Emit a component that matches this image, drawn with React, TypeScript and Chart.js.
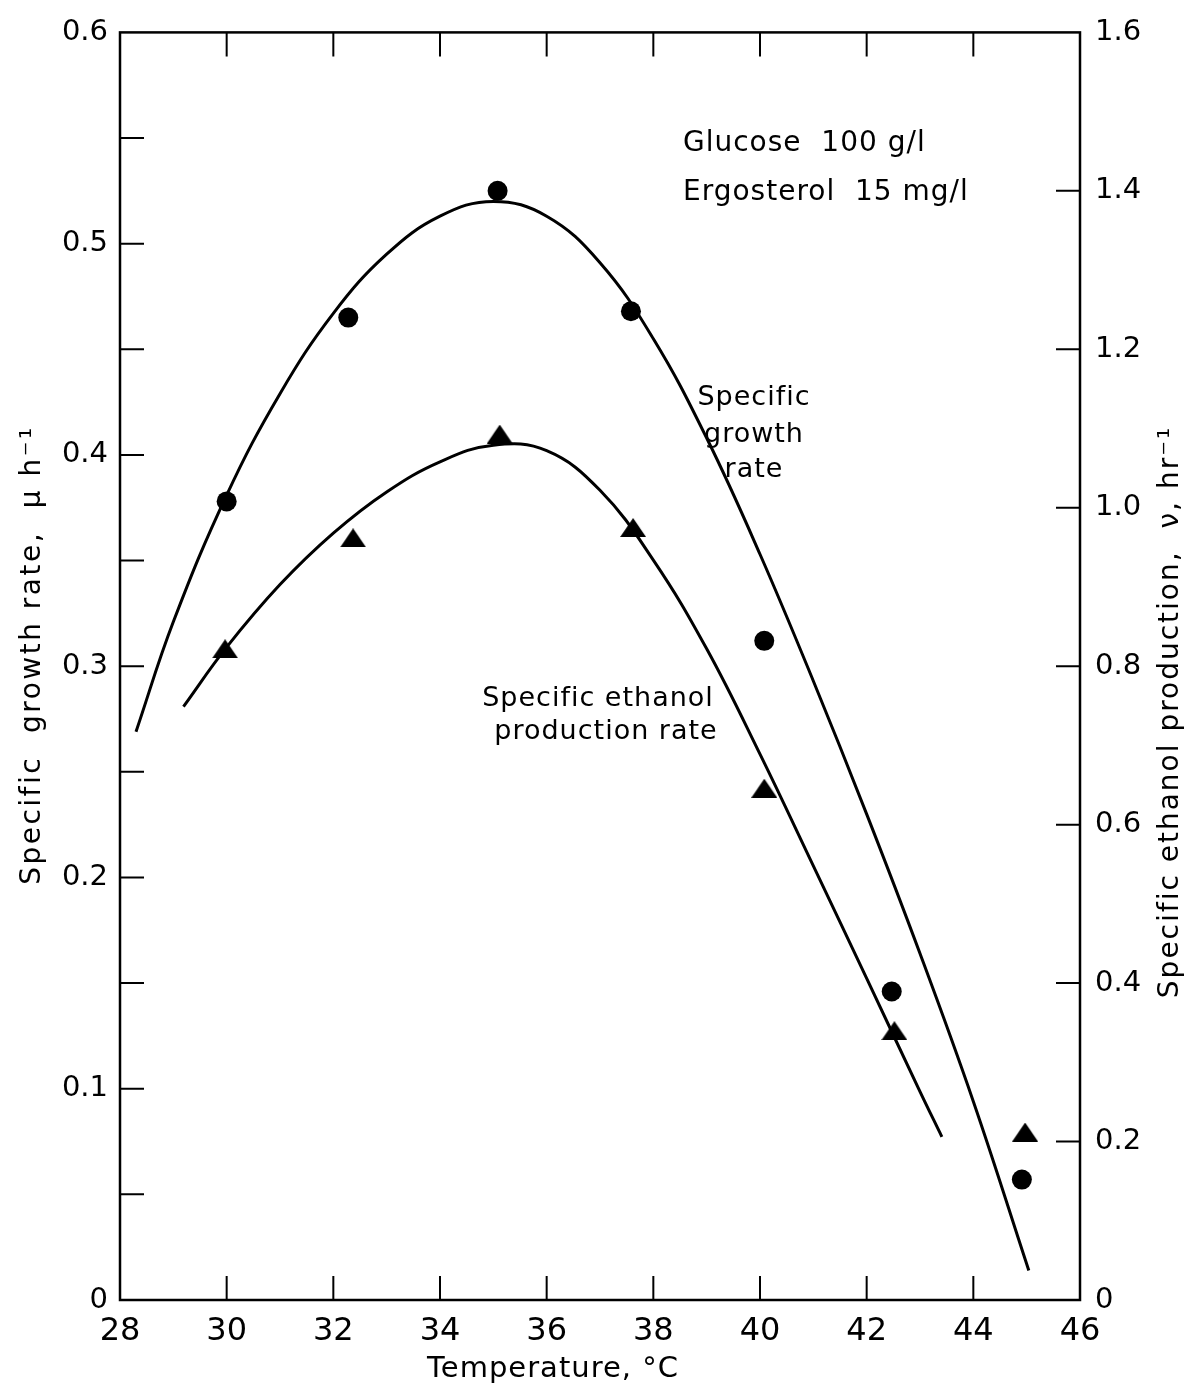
import React, { useEffect, useRef } from "react";
import { Chart, registerables } from "chart.js";

Chart.register(...registerables);

// Temperature (°C) of measured points
const growthTemps = [30.0, 32.28, 35.08, 37.58, 40.08, 42.47, 44.91];
// Specific growth rate, μ h^-1 (left axis)
const growthRates = [0.378, 0.465, 0.525, 0.468, 0.312, 0.146, 0.057];

const ethanolTemps = [29.97, 32.37, 35.12, 37.62, 40.08, 42.52, 44.97];
// Specific ethanol production, ν hr^-1 (right axis)
const ethanolRates = [0.822, 0.962, 1.093, 0.975, 0.646, 0.34, 0.212];

// Fitted curves
const growthCurveT = [28.3, 29, 30, 31, 32, 33, 34, 35, 36, 37, 38, 39, 40, 41, 42, 43, 44, 45.04];
const growthCurveV = [0.269, 0.321, 0.381, 0.429, 0.467, 0.495, 0.513, 0.52, 0.513, 0.491, 0.455, 0.408, 0.353, 0.293, 0.23, 0.164, 0.094, 0.014];

const ethanolCurveT = [29.19, 30, 31, 32, 33, 34, 35, 36, 37, 38, 39, 40, 41, 42, 43, 43.41];
const ethanolCurveV = [0.749, 0.824, 0.903, 0.968, 1.02, 1.058, 1.079, 1.072, 1.022, 0.934, 0.822, 0.689, 0.548, 0.406, 0.263, 0.206];

const xTicks = [28, 30, 32, 34, 36, 38, 40, 42, 44, 46];
const leftMinorTicks = [0.05, 0.1, 0.15, 0.2, 0.25, 0.3, 0.35, 0.4, 0.45, 0.5, 0.55];
const rightTicks = [0.2, 0.4, 0.6, 0.8, 1.0, 1.2, 1.4];

const annotationLines = ["Glucose  100 g/l", "Ergosterol  15 mg/l"];
const growthLabel = ["Specific", "growth", "rate"];
const ethanolLabel = ["Specific ethanol", "production rate"];
const xTitle = "Temperature, °C";
const leftTitle = "Specific  growth rate,  μ h⁻¹";
const rightTitle = "Specific ethanol production,  ν, hr⁻¹";

const FONT = "'DejaVu Sans', 'Noto Sans', sans-serif";

function makeTriangle(): HTMLCanvasElement {
  const c = document.createElement("canvas");
  c.width = 26;
  c.height = 19;
  const g = c.getContext("2d")!;
  g.fillStyle = "#000";
  g.beginPath();
  g.moveTo(13, 0);
  g.lineTo(26, 19);
  g.lineTo(0, 19);
  g.closePath();
  g.fill();
  return c;
}

const fmt = (v: number) => (v === 0 ? "0" : Number(v).toFixed(1));

const framePlugin = {
  id: "frameAndText",
  afterDraw(chart: any) {
    const { ctx, chartArea, scales } = chart;
    const { left, right, top, bottom } = chartArea;
    const x = scales.x;
    const y = scales.y;
    const y2 = scales.y2;
    ctx.save();
    ctx.strokeStyle = "#000";
    ctx.lineWidth = 2.5;
    ctx.strokeRect(left, top, right - left, bottom - top);
    ctx.lineWidth = 2;
    const tl = 24;
    ctx.beginPath();
    xTicks.slice(1, -1).forEach((t) => {
      const px = x.getPixelForValue(t);
      ctx.moveTo(px, bottom);
      ctx.lineTo(px, bottom - tl);
      ctx.moveTo(px, top);
      ctx.lineTo(px, top + tl);
    });
    leftMinorTicks.forEach((t) => {
      const py = y.getPixelForValue(t);
      ctx.moveTo(left, py);
      ctx.lineTo(left + tl, py);
    });
    rightTicks.forEach((t) => {
      const py = y2.getPixelForValue(t);
      ctx.moveTo(right, py);
      ctx.lineTo(right - tl, py);
    });
    ctx.stroke();

    ctx.fillStyle = "#000";
    (ctx as any).letterSpacing = "1px";
    // annotation
    ctx.font = `28px ${FONT}`;
    ctx.textAlign = "left";
    ctx.textBaseline = "alphabetic";
    ctx.fillText(annotationLines[0], 683, 151);
    ctx.fillText(annotationLines[1], 683, 200);

    // curve labels
    ctx.font = `27px ${FONT}`;
    ctx.textAlign = "center";
    ctx.fillText(growthLabel[0], 754, 405);
    ctx.fillText(growthLabel[1], 754, 442);
    ctx.fillText(growthLabel[2], 754, 477);
    ctx.fillText(ethanolLabel[0], 598, 706);
    ctx.fillText(ethanolLabel[1], 606, 739);

    // x title
    ctx.font = `29px ${FONT}`;
    ctx.fillText(xTitle, 553, 1377);

    // left title
    ctx.font = `28px ${FONT}`;
    (ctx as any).letterSpacing = "2.5px";
    ctx.save();
    ctx.translate(40, 655);
    ctx.rotate(-Math.PI / 2);
    ctx.fillText(leftTitle, 0, 0);
    ctx.restore();

    // right title
    (ctx as any).letterSpacing = "2px";
    ctx.save();
    ctx.translate(1178, 712);
    ctx.rotate(-Math.PI / 2);
    ctx.fillText(rightTitle, 0, 0);
    ctx.restore();

    ctx.restore();
  },
};

export default function App() {
  const ref = useRef<HTMLCanvasElement | null>(null);
  useEffect(() => {
    if (!ref.current) return;
    const tri = makeTriangle();
    const chart = new Chart(ref.current, {
      type: "scatter",
      data: {
        datasets: [
          {
            type: "line",
            label: "Specific growth rate curve",
            data: growthCurveT.map((t, i) => ({ x: t, y: growthCurveV[i] })),
            yAxisID: "y",
            borderColor: "#000",
            borderWidth: 3,
            pointRadius: 0,
            fill: false,
            tension: 0.4,
          },
          {
            type: "line",
            label: "Specific ethanol production curve",
            data: ethanolCurveT.map((t, i) => ({ x: t, y: ethanolCurveV[i] })),
            yAxisID: "y2",
            borderColor: "#000",
            borderWidth: 3,
            pointRadius: 0,
            fill: false,
            tension: 0.4,
          },
          {
            label: "Specific growth rate",
            data: growthTemps.map((t, i) => ({ x: t, y: growthRates[i] })),
            yAxisID: "y",
            pointStyle: "circle",
            pointRadius: 10,
            backgroundColor: "#000",
            borderColor: "#000",
            borderWidth: 0,
          },
          {
            label: "Specific ethanol production",
            data: ethanolTemps.map((t, i) => ({ x: t, y: ethanolRates[i] })),
            yAxisID: "y2",
            pointStyle: tri as any,
            pointRadius: 12,
            backgroundColor: "#000",
            borderColor: "#000",
          },
        ],
      } as any,
      options: {
        responsive: false,
        animation: false,
        layout: { padding: { top: 30, left: 0, right: 0, bottom: 0 } },
        plugins: { legend: { display: false }, tooltip: { enabled: false } },
        scales: {
          x: {
            type: "linear",
            min: 28,
            max: 46,
            grid: { display: false, drawTicks: false },
            border: { display: false },
            afterFit: (s: any) => {
              s.height = 89;
            },
            afterBuildTicks: (s: any) => {
              s.ticks = xTicks.map((v) => ({ value: v }));
            },
            ticks: {
              autoSkip: false,
              maxRotation: 0,
              padding: 12,
              color: "#000",
              font: { family: FONT, size: 32 },
              callback: (v: any) => String(v),
            },
          },
          y: {
            type: "linear",
            position: "left",
            min: 0,
            max: 0.6,
            grid: { display: false, drawTicks: false },
            border: { display: false },
            afterFit: (s: any) => {
              s.width = 120;
            },
            ticks: {
              stepSize: 0.1,
              autoSkip: false,
              padding: 12,
              color: "#000",
              font: { family: FONT, size: 29 },
              callback: (v: any) => fmt(v),
            },
          },
          y2: {
            type: "linear",
            position: "right",
            min: 0,
            max: 1.6,
            grid: { display: false, drawTicks: false },
            border: { display: false },
            afterFit: (s: any) => {
              s.width = 119;
            },
            ticks: {
              stepSize: 0.2,
              autoSkip: false,
              padding: 15,
              color: "#000",
              font: { family: FONT, size: 29 },
              callback: (v: any) => fmt(v),
            },
          },
        },
      } as any,
      plugins: [framePlugin],
    });
    return () => chart.destroy();
  }, []);
  return (
    <div style={{ position: "absolute", left: 0, top: 0, width: 1199, height: 1389, background: "#fff" }}>
      <canvas ref={ref} width={1199} height={1389} style={{ width: 1199, height: 1389, display: "block" }} />
    </div>
  );
}
